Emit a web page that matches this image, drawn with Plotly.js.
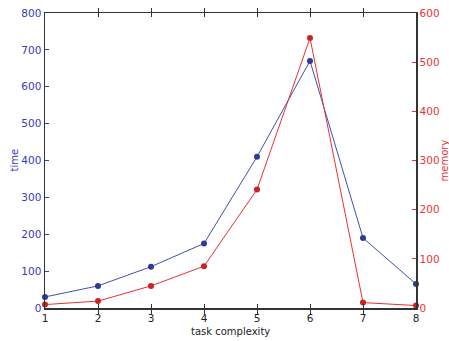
<!DOCTYPE html>
<html><head><meta charset="utf-8">
<script src="https://cdn.plot.ly/plotly-3.0.1.min.js"></script>
<style>html,body{margin:0;padding:0;background:#fff}#c{width:449px;height:341px}</style>
</head><body><div id="c"></div>
<script>
const complexity = [1, 2, 3, 4, 5, 6, 7, 8];
const timeVals = [30, 60, 112, 175, 410, 670, 190, 65];
const memoryVals = [7, 14, 45, 85, 241, 549, 11, 5];
const xTicks = [1, 2, 3, 4, 5, 6, 7, 8];

const blue = '#2e3a98';
const blueText = '#3a3ab4';
const redText = '#e83535';
const FS = 10;
const font = {family: 'DejaVu Sans', size: FS};

const traces = [
  {x: complexity, y: timeVals, type: 'scatter', mode: 'lines+markers', name: 'time',
   line: {color: '#4050b0', width: 1}, marker: {color: blue, size: 6}, yaxis: 'y', cliponaxis: false},
  {x: complexity, y: memoryVals, type: 'scatter', mode: 'lines+markers', name: 'memory',
   line: {color: '#e83030', width: 1}, marker: {color: '#cc2222', size: 6}, yaxis: 'y2', cliponaxis: false}
];

const layout = {
  width: 449, height: 341,
  margin: {l: 45, r: 33, t: 13, b: 33},
  paper_bgcolor: '#fff', plot_bgcolor: '#fff',
  showlegend: false,
  font: font,
  xaxis: {
    range: [1, 8], tickvals: xTicks, ticks: 'inside', ticklen: 4, tickcolor: '#333',
    showline: true, linecolor: '#333', linewidth: 1.5, mirror: 'allticks',
    showgrid: false, zeroline: false, tickfont: {family: 'DejaVu Sans', size: 10.5, color: '#222'}
  },
  yaxis: {
    range: [0, 800], dtick: 100, ticks: 'inside', ticklen: 4, tickcolor: blueText,
    showline: true, linecolor: '#333', linewidth: 1.5,
    showgrid: false, zeroline: false, tickfont: {family: 'DejaVu Sans', size: 10.5, color: blueText}
  },
  yaxis2: {
    range: [0, 600], dtick: 100, overlaying: 'y', side: 'right', ticks: 'inside', ticklen: 4, tickcolor: redText,
    showline: true, linecolor: '#333', linewidth: 1.5,
    showgrid: false, zeroline: false, tickfont: {family: 'DejaVu Sans', size: 10.5, color: redText}
  },
  annotations: [
    {text: 'task complexity', xref: 'paper', yref: 'paper', x: 0.5, y: 0, xanchor: 'center', yanchor: 'middle',
     yshift: -23, showarrow: false, font: {family: 'DejaVu Sans', size: FS, color: '#222'}},
    {text: 'time', xref: 'paper', yref: 'paper', x: 0, y: 0.5, xanchor: 'center', yanchor: 'middle',
     xshift: -31, textangle: -90, showarrow: false, font: {family: 'DejaVu Sans', size: FS, color: blueText}},
    {text: 'memory', xref: 'paper', yref: 'paper', x: 1, y: 0.5, xanchor: 'center', yanchor: 'middle',
     xshift: 28, textangle: -90, showarrow: false, font: {family: 'DejaVu Sans', size: FS, color: redText}}
  ]
};

Plotly.newPlot('c', traces, layout, {displayModeBar: false, staticPlot: true});
</script></body></html>
